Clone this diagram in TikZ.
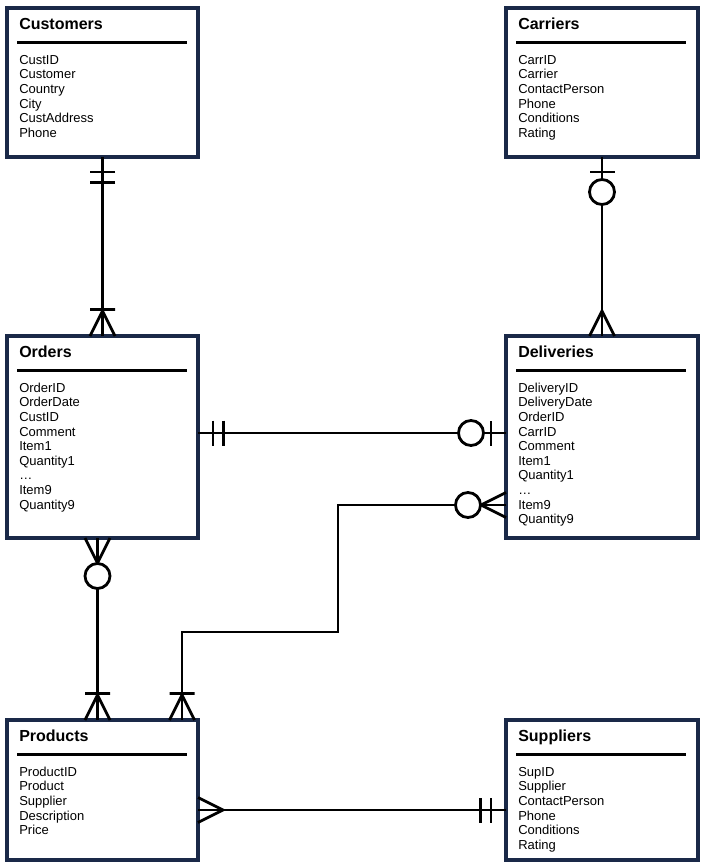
\documentclass[tikz,border=0pt]{standalone}
\usepackage{fontspec}
\setmainfont{Liberation Sans}
\usetikzlibrary{calc}

\definecolor{framenavy}{HTML}{1A2948}

\tikzset{
  x=0.75pt, y=-0.75pt,
  entity/.style={draw=framenavy, line width=2.3pt, fill=white,
    inner sep=0pt, outer sep=0pt},
  etitle/.style={anchor=base west, inner sep=0pt,
    font=\fontsize{12}{14}\selectfont\bfseries},
  efields/.style={anchor=north west, inner sep=0pt, align=left,
    font=\fontsize{9.75}{10.95}\selectfont},
  erule/.style={line width=1.9pt, black},
  conn/.style={line width=2.1pt, black},
  % relationship end markers, drawn along +x away from the entity edge
  pics/oneone/.style={code={
    \draw[conn] (15,-12.5) -- (15,12.5) (25.5,-12.5) -- (25.5,12.5);}},
  pics/zeroone/.style={code={
    \draw[conn] (15,-12.5) -- (15,12.5);
    \draw[conn, fill=white] (35,0) circle[radius=12.5];}},
  pics/many/.style={code={
    \draw[conn] (0,-12.5) -- (25,0) -- (0,12.5);}},
  pics/onemany/.style={code={
    \draw[conn] (0,-12.5) -- (25,0) -- (0,12.5) (26.5,-12.5) -- (26.5,12.5);}},
  pics/zeromany/.style={code={
    \draw[conn] (0,-12.5) -- (25,0) -- (0,12.5);
    \draw[conn, fill=white] (38,0) circle[radius=12.5];}},
}

% entity box: name, centre x, centre y, width, height, title, fields
\newcommand\erbox[7]{%
  \node[entity, minimum width=#4*0.75pt, minimum height=#5*0.75pt] (#1) at (#2,#3) {};
  \node[etitle] (#1-title) at ($(#1.north west)+(12,21.5)$) {#6};
  \draw[erule] ($(#1.north west)+(10,34.5)$) -- ++(170,0);
  \node[efields] (#1-fields) at ($(#1.north west)+(12,45.3)$) {\rule{0pt}{8pt}#7};
}

\begin{document}
\begin{tikzpicture}
\useasboundingbox[fill=white] (0,0) rectangle (703,866);

\erbox{cust}{102.5}{82.5}{191}{149}{Customers}%
  {CustID\\Customer\\Country\\City\\CustAddress\\Phone}
\erbox{car}{602}{82.5}{192}{149}{Carriers}%
  {CarrID\\Carrier\\ContactPerson\\Phone\\Conditions\\Rating}
\erbox{ord}{102.5}{437}{191}{202}{Orders}%
  {OrderID\\OrderDate\\CustID\\Comment\\Item1\\Quantity1\\…\\Item9\\Quantity9}
\erbox{del}{602}{437}{192}{202}{Deliveries}%
  {DeliveryID\\DeliveryDate\\OrderID\\CarrID\\Comment\\Item1\\Quantity1\\…\\Item9\\Quantity9}
\erbox{prod}{102.5}{790}{191}{140}{Products}%
  {ProductID\\Product\\Supplier\\Description\\Price}
\erbox{sup}{602}{790}{192}{140}{Suppliers}%
  {SupID\\Supplier\\ContactPerson\\Phone\\Conditions\\Rating}

% connector end points
\coordinate (od-o) at ($(ord.east)+(0,-4)$);
\coordinate (od-d) at ($(del.west)+(0,-4)$);
\coordinate (op-o) at ($(ord.south)+(-5,0)$);
\coordinate (op-p) at ($(prod.north)+(-5,0)$);
\coordinate (dp-d) at ($(del.west)+(0,68)$);
\coordinate (dp-p) at ($(prod.north)+(79.5,0)$);
\coordinate (dp-bend) at (338,632);
\coordinate (ps-p) at ($(prod.east)+(0,20)$);
\coordinate (ps-s) at ($(sup.west)+(0,20)$);

% relationship lines
\draw[conn] (cust.south) -- (ord.north);
\draw[conn] (car.south) -- (del.north);
\draw[conn] (od-o) -- (od-d);
\draw[conn] (op-o) -- (op-p);
\draw[conn] (dp-d) -| (dp-bend) -| (dp-p);
\draw[conn] (ps-p) -- (ps-s);

% cardinality markers
\pic[rotate=-90] at (cust.south) {oneone};
\pic[rotate=90]  at (ord.north)  {onemany};
\pic[rotate=-90] at (car.south)  {zeroone};
\pic[rotate=90]  at (del.north)  {many};
\pic             at (od-o)       {oneone};
\pic[rotate=180] at (od-d)       {zeroone};
\pic[rotate=-90] at (op-o)       {zeromany};
\pic[rotate=90]  at (op-p)       {onemany};
\pic[rotate=180] at (dp-d)       {zeromany};
\pic[rotate=90]  at (dp-p)       {onemany};
\pic             at (ps-p)       {many};
\pic[rotate=180] at (ps-s)       {oneone};
\end{tikzpicture}
\end{document}
